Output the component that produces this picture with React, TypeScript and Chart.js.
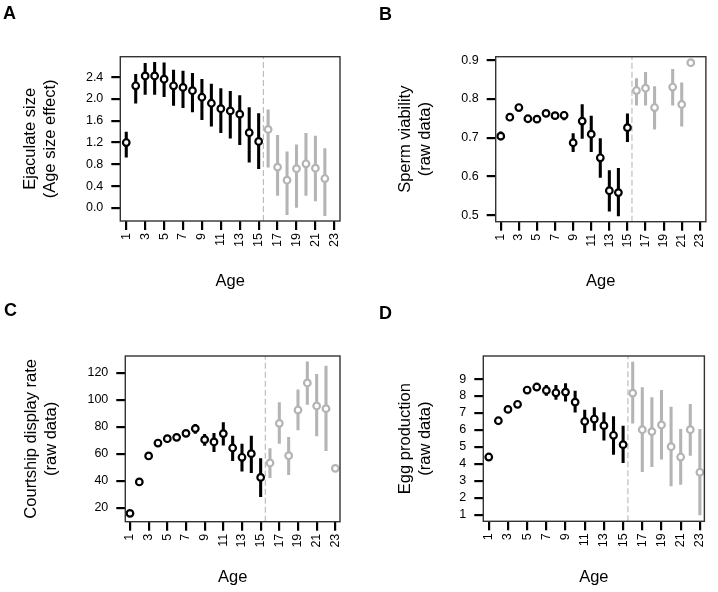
import React, { useEffect, useRef } from "react";
import { Chart, registerables } from "chart.js";

Chart.register(...registerables);

const FONT = "'Liberation Sans', Arial, Helvetica, sans-serif";
const BLACK = "#000000";
const GREY = "#b4b4b4";

// ---------- data ----------
const ages = [1, 2, 3, 4, 5, 6, 7, 8, 9, 10, 11, 12, 13, 14, 15, 16, 17, 18, 19, 20, 21, 22, 23];
const xTickValues = [1, 3, 5, 7, 9, 11, 13, 15, 17, 19, 21, 23];
const cutoffAge = 15.5;

// A: Ejaculate size (age size effect)
const ejacMean = [1.2, 2.24, 2.42, 2.42, 2.36, 2.24, 2.21, 2.15, 2.03, 1.92, 1.82, 1.78, 1.72, 1.38, 1.22, 1.44, 0.75, 0.51, 0.72, 0.81, 0.73, 0.54, null];
const ejacLow = [0.93, 1.92, 2.08, 2.08, 2.04, 1.88, 1.84, 1.76, 1.62, 1.5, 1.38, 1.28, 1.16, 0.84, 0.72, 0.75, 0.23, -0.12, 0.01, 0.23, 0.13, -0.14, null];
const ejacHigh = [1.39, 2.45, 2.65, 2.67, 2.66, 2.53, 2.51, 2.47, 2.36, 2.27, 2.19, 2.14, 2.06, 1.84, 1.73, 1.8, 1.33, 1.03, 1.16, 1.37, 1.32, 1.09, null];
const ejacTicks = [0, 0.4, 0.8, 1.2, 1.6, 2.0, 2.4];

// B: Sperm viability
const viabMean = [0.704, 0.753, 0.778, 0.749, 0.748, 0.763, 0.757, 0.758, 0.687, 0.743, 0.709, 0.648, 0.563, 0.558, 0.726, 0.822, 0.828, 0.778, null, 0.831, 0.786, 0.894, null];
const viabLow = [0.694, null, null, null, null, null, null, 0.746, 0.664, 0.698, 0.664, 0.597, 0.51, 0.498, 0.69, 0.784, 0.784, 0.722, null, 0.784, 0.73, null, null];
const viabHigh = [0.715, null, null, null, null, null, null, 0.767, 0.711, 0.786, 0.756, 0.698, 0.615, 0.621, 0.762, 0.853, 0.869, 0.832, null, 0.877, 0.842, null, null];
const viabTicks = [0.5, 0.6, 0.7, 0.8, 0.9];

// C: Courtship display rate
const courtMean = [15.8, 39.1, 58.4, 68.0, 71.2, 72.2, 75.2, 78.7, 70.5, 68.8, 75.0, 64.3, 57.4, 60.1, 42.5, 53.2, 82.6, 58.6, 92.5, 112.6, 95.5, 93.5, 49.2];
const courtLow = [null, null, null, null, null, null, null, 75.2, 66.3, 61.6, 66.5, 54.9, 47.2, 46.0, 28.2, 42.3, 67.8, 44.5, 77.7, 96.7, 73.2, 62.3, null];
const courtHigh = [null, null, null, null, null, null, null, 81.9, 74.5, 75.2, 83.1, 73.2, 67.3, 73.2, 56.4, 63.8, 98.0, 72.2, 107.4, 128.2, 119.0, 125.2, null];
const courtTicks = [20, 40, 60, 80, 100, 120];

// D: Egg production
const eggMean = [4.4, 6.54, 7.21, 7.51, 8.35, 8.53, 8.33, 8.19, 8.23, 7.64, 6.5, 6.64, 6.25, 5.68, 5.13, 8.17, 6.01, 5.9, 6.29, 5.01, 4.4, 6.01, 3.5];
const eggLow = [null, null, null, null, null, null, 8.04, 7.8, 7.7, 7.05, 5.84, 5.97, 5.4, 4.56, 4.07, 6.39, 3.54, 3.83, 4.27, 2.69, 2.79, 4.5, 0.98];
const eggHigh = [null, null, null, null, null, null, 8.63, 8.63, 8.74, 8.29, 7.17, 7.31, 7.02, 6.78, 6.23, 10.0, 8.49, 7.9, 8.33, 7.35, 6.03, 7.51, 6.03];
const eggTicks = [1, 2, 3, 4, 5, 6, 7, 8, 9];

// ---------- panel layout ----------
type Panel = {
  letter: string;
  left: number;
  top: number;
  letterLeft: number;
  letterTop: number;
  mean: (number | null)[];
  low: (number | null)[];
  high: (number | null)[];
  yTicks: number[];
  decimals: number;
  yMin: number;
  yMax: number;
  xMin: number;
  xMax: number;
  yTitle: string[];
  titlePad: number;
  box: { l: number; r: number; t: number; b: number };
};

const W = 359;
const H = 296;

const panels: Panel[] = [
  {
    letter: "A", left: 0, top: 0, letterLeft: 3, letterTop: 4,
    mean: ejacMean, low: ejacLow, high: ejacHigh, yTicks: ejacTicks, decimals: 1,
    yMin: -0.238, yMax: 2.773, xMin: 0.37, xMax: 23.6,
    yTitle: ["Ejaculate size", "(Age size effect)"], titlePad: 20.5,
    box: { l: 120.3, r: 340, t: 56.7, b: 221 },
  },
  {
    letter: "B", left: 359, top: 0, letterLeft: 20, letterTop: 4.5,
    mean: viabMean, low: viabLow, high: viabHigh, yTicks: viabTicks, decimals: 1,
    yMin: 0.4828, yMax: 0.9095, xMin: 0.44, xMax: 23.67,
    yTitle: ["Sperm viability", "(raw data)"], titlePad: 37,
    box: { l: 136.7, r: 357.3, t: 56.7, b: 221.7 },
  },
  {
    letter: "C", left: 0, top: 296, letterLeft: 4, letterTop: 4.5,
    mean: courtMean, low: courtLow, high: courtHigh, yTicks: courtTicks, decimals: 0,
    yMin: 9.6, yMax: 132.6, xMin: 0.5, xMax: 23.5,
    yTitle: ["Courtship display rate", "(raw data)"], titlePad: 22,
    box: { l: 125.3, r: 340, t: 60, b: 225.7 },
  },
  {
    letter: "D", left: 359, top: 296, letterLeft: 20, letterTop: 7.5,
    mean: eggMean, low: eggLow, high: eggHigh, yTicks: eggTicks, decimals: 0,
    yMin: 0.607, yMax: 10.36, xMin: 0.43, xMax: 23.47,
    yTitle: ["Egg production", "(raw data)"], titlePad: 37,
    box: { l: 124.3, r: 354.7, t: 60, b: 225.3 },
  },
];

const colorFor = (x: number | undefined) => (x !== undefined && x > cutoffAge ? GREY : BLACK);

const boxPlugin = {
  id: "plotBox",
  afterDatasetsDraw(chart: any) {
    const { ctx, chartArea: a } = chart;
    ctx.save();
    ctx.strokeStyle = "#333333";
    ctx.lineWidth = 1.4;
    ctx.strokeRect(a.left, a.top, a.right - a.left, a.bottom - a.top);
    ctx.restore();
  },
};

function buildConfig(p: Panel): any {
  const points = ages
    .map((a, i) => (p.mean[i] == null ? null : { x: a, y: p.mean[i] as number }))
    .filter((d) => d !== null);
  const bars = ages
    .map((a, i) =>
      p.low[i] == null || p.high[i] == null ? null : { x: a, y: [p.low[i] as number, p.high[i] as number] }
    )
    .filter((d) => d !== null);
  const dashLine = [
    { x: cutoffAge, y: p.yMin },
    { x: cutoffAge, y: p.yMax },
  ];

  const gridOpts = {
    drawOnChartArea: false,
    drawTicks: true,
    tickLength: 9,
    lineWidth: 2.2,
    tickWidth: 2.2,
    tickColor: BLACK,
    offset: false,
  };

  return {
    type: "scatter",
    data: {
      datasets: [
        {
          type: "scatter",
          data: points,
          order: 0,
          showLine: false,
          pointRadius: 3.3,
          pointBorderWidth: 2.2,
          pointBackgroundColor: "#ffffff",
          pointBorderColor: (ctx: any) => colorFor(ctx.raw?.x),
        },
        {
          type: "bar",
          data: bars,
          order: 1,
          barThickness: 2.4,
          borderWidth: 0,
          backgroundColor: (ctx: any) => colorFor(ctx.raw?.x),
        },
        {
          type: "line",
          data: dashLine,
          order: 2,
          borderColor: "#bdbdbd",
          borderWidth: 1.2,
          borderDash: [6, 3],
          pointRadius: 0,
          fill: false,
        },
      ],
    },
    options: {
      responsive: false,
      animation: false,
      devicePixelRatio: 1,
      events: [],
      layout: { padding: { left: 0, top: p.box.t, right: W - p.box.r, bottom: 0 } },
      plugins: { legend: { display: false }, tooltip: { enabled: false } },
      scales: {
        x: {
          type: "linear",
          position: "bottom",
          min: p.xMin,
          max: p.xMax,
          offset: false,
          afterFit: (s: any) => {
            s.height = H - p.box.b;
          },
          afterBuildTicks: (s: any) => {
            s.ticks = xTickValues.map((v) => ({ value: v }));
          },
          ticks: {
            autoSkip: false,
            minRotation: 90,
            maxRotation: 90,
            padding: 3,
            color: BLACK,
            font: { size: 12.5, family: FONT },
            callback: (v: any) => String(v),
          },
          grid: gridOpts,
          border: { display: false },
          title: {
            display: true,
            text: "Age",
            color: BLACK,
            font: { size: 16.5, family: FONT },
            padding: { top: 0, bottom: 5 },
          },
        },
        y: {
          type: "linear",
          position: "left",
          min: p.yMin,
          max: p.yMax,
          afterFit: (s: any) => {
            s.width = p.box.l;
          },
          afterBuildTicks: (s: any) => {
            s.ticks = p.yTicks.map((v) => ({ value: v }));
          },
          ticks: {
            padding: 8,
            color: BLACK,
            font: { size: 12.5, family: FONT },
            callback: (v: any) => Number(v).toFixed(p.decimals),
          },
          grid: gridOpts,
          border: { display: false },
          title: {
            display: true,
            text: p.yTitle,
            color: BLACK,
            font: { size: 16.5, family: FONT, lineHeight: 1.2 },
            padding: { top: p.titlePad, bottom: 0 },
          },
        },
      },
    },
    plugins: [boxPlugin],
  };
}

function PanelChart({ p }: { p: Panel }) {
  const ref = useRef<HTMLCanvasElement | null>(null);
  useEffect(() => {
    if (!ref.current) return;
    const chart = new Chart(ref.current, buildConfig(p));
    return () => chart.destroy();
  }, [p]);
  return (
    <>
      <canvas
        ref={ref}
        width={W}
        height={H}
        style={{ position: "absolute", left: p.left, top: p.top, width: W, height: H }}
      />
      <div
        style={{
          position: "absolute",
          left: p.left + p.letterLeft,
          top: p.top + p.letterTop,
          font: `bold 18px ${FONT}`,
          lineHeight: "18px",
          color: BLACK,
        }}
      >
        {p.letter}
      </div>
    </>
  );
}

export default function App() {
  return (
    <div
      style={{
        position: "fixed",
        left: 0,
        top: 0,
        width: 718,
        height: 592,
        background: "#ffffff",
        overflow: "hidden",
      }}
    >
      {panels.map((p) => (
        <PanelChart key={p.letter} p={p} />
      ))}
    </div>
  );
}
